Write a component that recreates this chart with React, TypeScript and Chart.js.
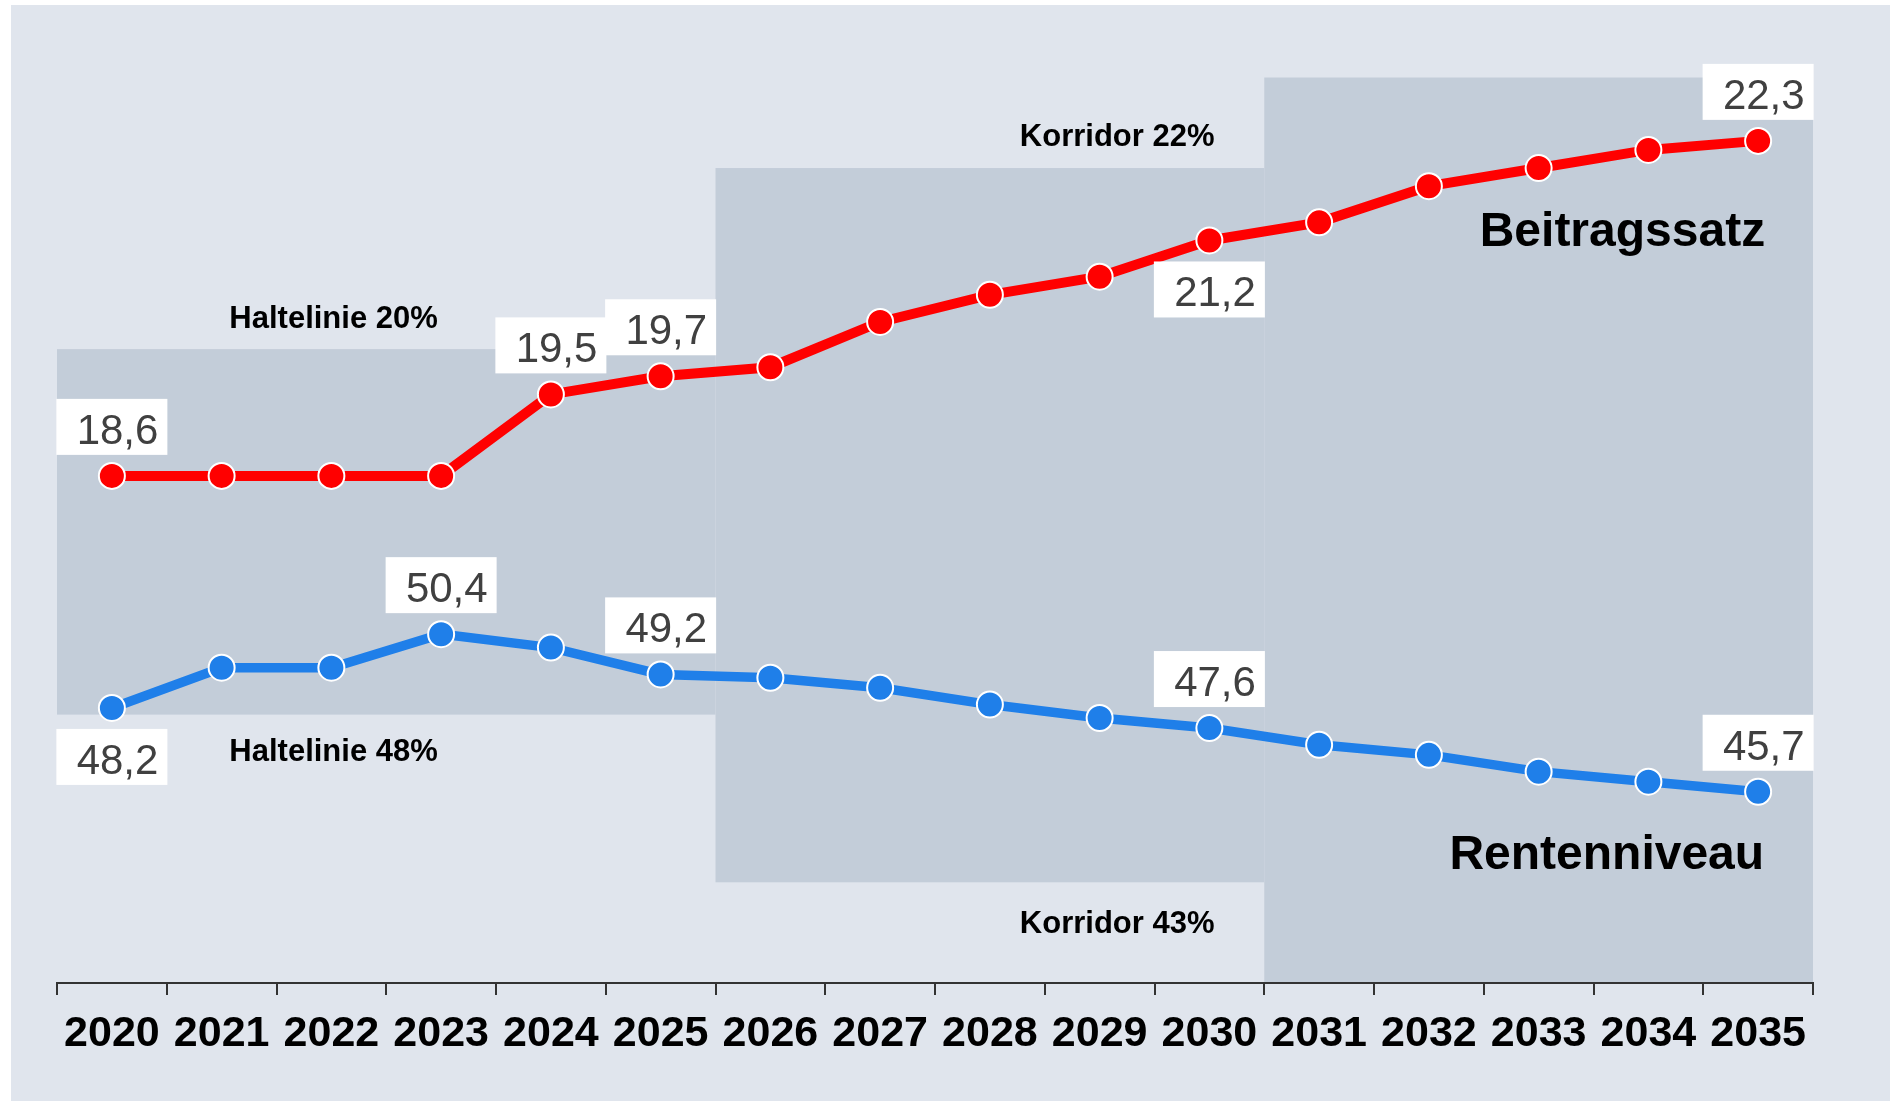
import React, { useEffect, useRef } from "react";
import { Chart, registerables } from "chart.js";

Chart.register(...registerables);

// ---------- data ----------
const years = ["2020", "2021", "2022", "2023", "2024", "2025", "2026", "2027", "2028", "2029", "2030", "2031", "2032", "2033", "2034", "2035"];
const beitragssatz = [18.6, 18.6, 18.6, 18.6, 19.5, 19.7, 19.8, 20.3, 20.6, 20.8, 21.2, 21.4, 21.8, 22.0, 22.2, 22.3];
const rentenniveau = [48.2, 49.4, 49.4, 50.4, 50.0, 49.2, 49.1, 48.8, 48.3, 47.9, 47.6, 47.1, 46.8, 46.3, 46.0, 45.7];

const beitragLabelYears = ["2020", "2024", "2025", "2030", "2035"];
const beitragLabelSide = ["above", "above", "above", "below", "above"];
const rentenLabelYears = ["2020", "2023", "2025", "2030", "2035"];
const rentenLabelSide = ["below", "above", "above", "above", "above"];

// shaded zones: Beitragssatz upper bound / Rentenniveau lower bound
const zoneFrom = ["2020", "2026", "2031"];
const zoneTo = ["2025", "2030", "2035"];
const zoneBeitragTop = [20, 22, 23];
const zoneRentenBottom = [48, 43, 40];
const zoneTopText = ["Haltelinie 20%", "Korridor 22%"];
const zoneBottomText = ["Haltelinie 48%", "Korridor 43%"];

const beitragRange = [13, 23];
const rentenRange = [40, 67];

const seriesNames = ["Beitragssatz", "Rentenniveau"];

// ---------- style ----------
const FONT = '"Liberation Sans", Arial, Helvetica, sans-serif';
const PANEL = "#e0e5ed";
const SHADE = "#c3cdd9";
const RED = "#ff0000";
const BLUE = "#1f7fe9";

const fmt = (v: number) => v.toFixed(1).replace(".", ",");

const decorPlugin = {
  id: "decor",
  beforeDraw(chart: any) {
    const { ctx, width, height } = chart;
    const x = chart.scales.x;
    const yR = chart.scales.yR;
    const yB = chart.scales.yB;
    ctx.save();
    ctx.fillStyle = "#ffffff";
    ctx.fillRect(0, 0, width, height);
    ctx.fillStyle = PANEL;
    ctx.fillRect(11, 5, width - 11, height - 5);

    const zoneRects: any[] = [];
    zoneFrom.forEach((f, i) => {
      const i0 = years.indexOf(f);
      const i1 = years.indexOf(zoneTo[i]);
      const left = x.getPixelForValue(i0 - 0.5);
      const right = x.getPixelForValue(i1 + 0.5);
      const top = yR.getPixelForValue(zoneBeitragTop[i]);
      const bottom = yB.getPixelForValue(zoneRentenBottom[i]);
      zoneRects.push({ left, right, top, bottom });
      ctx.fillStyle = SHADE;
      ctx.fillRect(left, top, right - left, bottom - top);
    });

    // zone annotations
    ctx.fillStyle = "#000";
    ctx.font = `bold 31px ${FONT}`;
    ctx.textAlign = "center";
    ctx.textBaseline = "alphabetic";
    const cx0 = x.getPixelForValue(2.02);
    const cx1 = x.getPixelForValue(9.16);
    ctx.fillText(zoneTopText[0], cx0, zoneRects[0].top - 21.5);
    ctx.fillText(zoneBottomText[0], cx0, zoneRects[0].bottom + 46);
    ctx.fillText(zoneTopText[1], cx1, zoneRects[1].top - 22.5);
    ctx.fillText(zoneBottomText[1], cx1, zoneRects[1].bottom + 51);
    ctx.restore();
  },
  afterDatasetsDraw(chart: any) {
    const { ctx } = chart;
    const x = chart.scales.x;
    const yR = chart.scales.yR;
    const yB = chart.scales.yB;
    ctx.save();

    const drawLabels = (dsIndex: number, ys: string[], sides: string[], values: number[]) => {
      const meta = chart.getDatasetMeta(dsIndex);
      ys.forEach((yr, k) => {
        const idx = years.indexOf(yr);
        const pt = meta.data[idx];
        const w = 111;
        const h = 56;
        const gap = 21;
        const left = pt.x - w / 2;
        const top = sides[k] === "above" ? pt.y - gap - h : pt.y + gap;
        ctx.fillStyle = "#ffffff";
        ctx.fillRect(left, top, w, h);
        ctx.fillStyle = "#404040";
        ctx.font = `42px ${FONT}`;
        ctx.textAlign = "right";
        ctx.textBaseline = "alphabetic";
        ctx.fillText(fmt(values[idx]), left + w - 9, top + h - 11);
      });
    };
    drawLabels(0, beitragLabelYears, beitragLabelSide, beitragssatz);
    drawLabels(1, rentenLabelYears, rentenLabelSide, rentenniveau);

    // series names
    ctx.fillStyle = "#000";
    ctx.font = `bold 48px ${FONT}`;
    ctx.textAlign = "right";
    ctx.textBaseline = "alphabetic";
    const rx = x.getPixelForValue(15);
    ctx.fillText(seriesNames[0], rx + 7, yR.getPixelForValue(21.14));
    ctx.fillText(seriesNames[1], rx + 6, yB.getPixelForValue(43.39));
    ctx.restore();
  },
};

export default function App() {
  const ref = useRef<HTMLCanvasElement | null>(null);
  useEffect(() => {
    if (!ref.current) return;
    const chart = new Chart(ref.current, {
      type: "line",
      data: {
        labels: years,
        datasets: [
          {
            label: seriesNames[0],
            data: beitragssatz,
            yAxisID: "yR",
            borderColor: RED,
            backgroundColor: RED,
            borderWidth: 10,
            pointRadius: 13,
            pointBorderWidth: 2,
            pointBackgroundColor: RED,
            pointBorderColor: "#ffffff",
            tension: 0,
          },
          {
            label: seriesNames[1],
            data: rentenniveau,
            yAxisID: "yB",
            borderColor: BLUE,
            backgroundColor: BLUE,
            borderWidth: 9.5,
            pointRadius: 13,
            pointBorderWidth: 2,
            pointBackgroundColor: BLUE,
            pointBorderColor: "#ffffff",
            tension: 0,
          },
        ],
      },
      options: {
        animation: false,
        responsive: false,
        maintainAspectRatio: false,
        layout: { padding: { left: 57, top: 77.5, right: 77, bottom: 28.5 } },
        plugins: {
          legend: { display: false },
          tooltip: { enabled: false },
          title: { display: false },
        },
        scales: {
          x: {
            type: "category",
            offset: true,
            grid: {
              offset: true,
              drawOnChartArea: false,
              drawTicks: true,
              tickLength: 12,
              color: "#333333",
              lineWidth: 2,
            },
            border: { display: true, color: "#333333", width: 2 },
            ticks: {
              color: "#000000",
              font: { family: FONT, size: 43, weight: "bold" },
              padding: 13,
              maxRotation: 0,
              autoSkip: false,
            },
          },
          yR: { type: "linear", position: "left", min: beitragRange[0], max: beitragRange[1], display: false },
          yB: { type: "linear", position: "right", min: rentenRange[0], max: rentenRange[1], display: false },
        },
      },
      plugins: [decorPlugin],
    } as any);
    return () => chart.destroy();
  }, []);
  return (
    <div style={{ position: "absolute", left: 0, top: 0, width: 1890, height: 1101, overflow: "hidden" }}>
      <canvas ref={ref} width={1890} height={1101} style={{ display: "block", width: 1890, height: 1101 }} />
    </div>
  );
}
